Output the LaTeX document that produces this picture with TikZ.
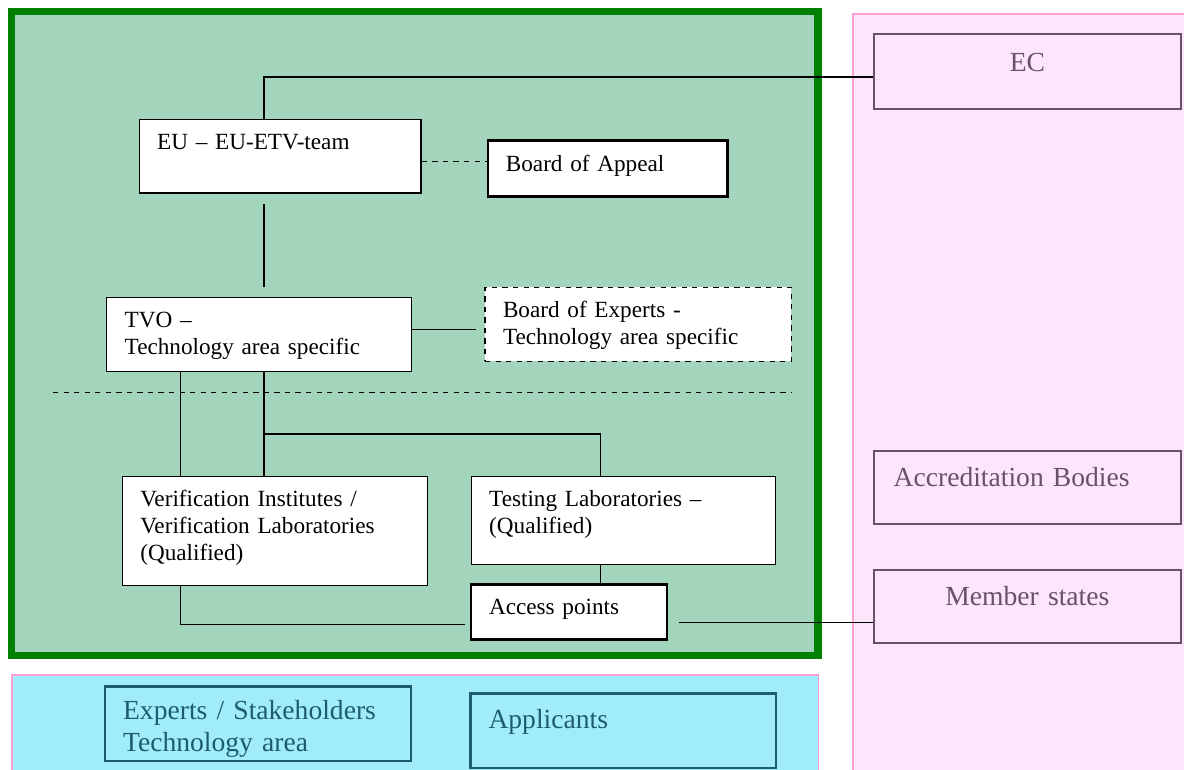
\documentclass[tikz,border=0pt]{standalone}
\usepackage{fontspec}
\setmainfont{Liberation Serif}
\definecolor{areagreen}{RGB}{163,212,188}
\definecolor{framegreen}{RGB}{0,128,0}
\definecolor{sidepink}{RGB}{252,230,252}
\definecolor{pinkline}{RGB}{255,160,210}
\definecolor{footcyan}{RGB}{160,236,252}
\definecolor{sideink}{RGB}{107,80,107}
\definecolor{footink}{RGB}{31,92,107}
\begin{document}
\begin{tikzpicture}[x=0.02cm,y=-0.02cm,line width=0.7pt,
orgblock/.style={draw,fill=white,anchor=north west,align=left,inner xsep=0.36cm,inner ysep=0pt,text height=0.6cm,line width=0.8pt,font=\fontsize{13.2}{15.2}\selectfont},
heavyblock/.style={orgblock,line width=1.6pt},
sideblock/.style={draw=sideink,text=sideink,anchor=north west,inner xsep=0.4cm,inner ysep=0pt,text width=5.35cm,text height=0.71cm,text depth=0.76cm,line width=1.1pt,font=\fontsize{15.7}{18}\selectfont},
footblock/.style={draw=footink,text=footink,anchor=north west,align=left,inner xsep=0.36cm,inner ysep=0pt,line width=1.3pt,font=\fontsize{15.7}{18}\selectfont}]
\useasboundingbox (0,0) rectangle (1184,769);
\clip (0,0) rectangle (1184,769);
% panels
\fill[white] (0,0) rectangle (1184,769);
\draw[draw=pinkline,fill=sidepink] (853,14) rectangle (1200,790);
\draw[draw=pinkline,fill=footcyan] (12,675) rectangle (818.5,790);
\draw[draw=framegreen,fill=areagreen,line width=4pt] (11.5,11.7) rectangle (818,655);

% legs of the tree
\coordinate (leftleg) at (180.5,0);
\coordinate (spine) at (264,0);
\coordinate (lableg) at (600.5,0);
\coordinate (fork) at (0,434);
\coordinate (septail) at (53,392.3);

\node[orgblock,text width=4.92cm,text depth=0.88cm] (eu) at (138.5,118.5) {EU – EU-ETV-team};
\node[heavyblock,text width=4.07cm,text height=0.62cm,text depth=0.51cm] (appeal) at (486.5,139) {Board of Appeal};
\node[orgblock,text width=5.38cm,text depth=0.88cm] (tvo) at (106,296.7) {TVO –\\Technology area specific};
\node[orgblock,dashed,text width=5.41cm,text depth=0.88cm] (experts) at (484.3,286.7) {Board of Experts -\\Technology area specific};
\node[orgblock,text width=5.39cm,text depth=1.58cm] (vi) at (121.6,476) {Verification Institutes /\\Verification Laboratories\\(Qualified)};
\node[orgblock,text width=5.37cm,text depth=1.16cm] (testing) at (470.5,476) {Testing Laboratories –\\(Qualified)};
\node[heavyblock,text width=3.2cm,text depth=0.5cm] (access) at (469.6,583.3) {Access points};

\node[sideblock,align=center,text height=0.75cm,text depth=0.74cm] (ec) at (872.7,33.3) {EC};
\node[sideblock,align=left] (accred) at (872.7,450) {Accreditation Bodies};
\node[sideblock,align=center] (member) at (872.7,568.6) {Member states};

\node[footblock,text width=5.4cm,text height=0.66cm,text depth=0.83cm] (stake) at (104,685.3) {Experts / Stakeholders\\Technology area};
\node[footblock,text width=5.39cm,text height=0.71cm,text depth=0.78cm] (applicants) at (469.4,692.3) {Applicants};

% connectors
\draw (spine |- eu.north) |- (ec.182);
\draw[dashed] ([yshift=-0.1cm]eu.east) -- ([yshift=-0.1cm]eu.east -| appeal.west);
\draw[shorten <=0.21cm,shorten >=0.2cm] (spine |- eu.south) -- (spine |- tvo.north);
\draw[shorten >=0.17cm] ([yshift=0.1cm]tvo.east) -- ([yshift=0.1cm]tvo.east -| experts.west);
\draw[dashed] (septail) -- (septail -| experts.east);
\draw (leftleg |- tvo.south) -- (leftleg |- vi.north);
\draw (spine |- tvo.south) -- (spine |- vi.north);
\draw (spine |- fork) -| (lableg |- testing.north);
\draw (lableg |- testing.south) -- (lableg |- access.north);
\draw[shorten >=0.1cm] (leftleg |- vi.south) |- ([yshift=-0.25cm]access.west);
\draw[shorten <=0.22cm] (access.east |- member.186) -- (member.186);
\end{tikzpicture}
\end{document}
